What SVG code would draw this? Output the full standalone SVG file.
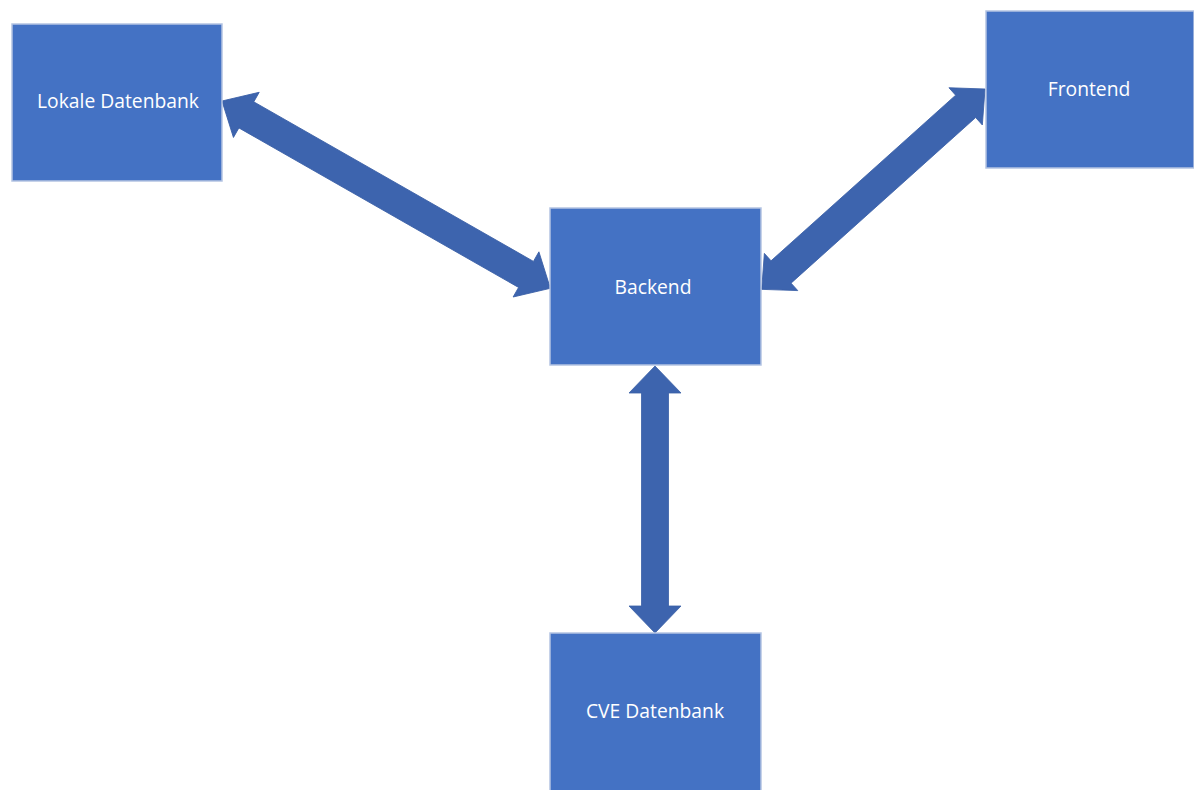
<svg xmlns="http://www.w3.org/2000/svg" width="1194" height="790" viewBox="0 0 1194 790">
<style>
.box{fill:#4472C4;stroke:#B4C4E2;stroke-width:1.5}
.lbl{fill:#FFFFFF;font-family:"Open Sans","Noto Sans","Liberation Sans",sans-serif;font-size:19.3px;text-anchor:middle;dominant-baseline:central}
.arr{fill:#3D64AE;stroke:#3A5FA6;stroke-width:0.8}
</style>
<rect width="1194" height="790" fill="#FFFFFF"/>
<g id="connectors">
<polygon class="arr" transform="translate(222,101) rotate(29.7)" points="0,0 28,-26 28,-15 350,-15 350,-26 378,0 350,26 350,15 28,15 28,26"/>
<polygon class="arr" transform="translate(985,89) rotate(138.1)" points="0,0 26,-25 26,-15 274,-15 274,-25 300,0 274,25 274,15 26,15 26,25"/>
<polygon class="arr" transform="translate(655,366) rotate(90)" points="0,0 27,-26 27,-13.5 240,-13.5 240,-26 267,0 240,26 240,13.5 27,13.5 27,26"/>
</g>
<g id="lokale-datenbank">
<rect class="box" x="12" y="24" width="210" height="157"/>
<text class="lbl" x="118" y="100.5">Lokale Datenbank</text>
</g>
<g id="frontend">
<rect class="box" x="986" y="11" width="208" height="157"/>
<text class="lbl" x="1089" y="88.5">Frontend</text>
</g>
<g id="backend">
<rect class="box" x="550" y="208" width="211" height="157"/>
<text class="lbl" x="653" y="286.5">Backend</text>
</g>
<g id="cve-datenbank">
<rect class="box" x="550" y="633" width="211" height="160"/>
<text class="lbl" x="655" y="710.5">CVE Datenbank</text>
</g>
</svg>
